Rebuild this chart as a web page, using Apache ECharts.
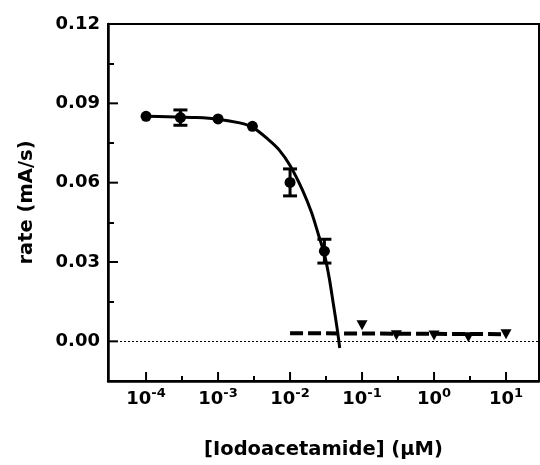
<!DOCTYPE html>
<html>
<head>
<meta charset="utf-8">
<script src="https://cdn.jsdelivr.net/npm/echarts@6/dist/echarts.min.js"></script>
<style>
html,body{margin:0;padding:0;background:#fff;}
#chart{width:540px;height:465px;}
</style>
</head>
<body>
<div id="chart"></div>
<script>
// ---- data ----
const concentrations = [1e-4, 3e-4, 1e-3, 3e-3, 1e-2, 3e-2];          // µM, circles
const rates = [0.0851, 0.0846, 0.0841, 0.0813, 0.0601, 0.0341];        // mA/s
const rateErrors = [0, 0.0029, 0, 0, 0.0051, 0.0045];

const fitConc = [1e-4, 2e-4, 5e-4, 1e-3, 2e-3, 3e-3, 5e-3, 7e-3, 1e-2, 1.5e-2, 2e-2, 2.5e-2, 3e-2, 3.5e-2, 4e-2, 4.5e-2, 4.9e-2];
const fitRate = [0.0851, 0.0849, 0.0846, 0.0840, 0.0826, 0.0810, 0.0763, 0.0725, 0.0665, 0.0570, 0.0485, 0.0400, 0.0330, 0.0240, 0.0140, 0.0050, -0.0025];

const triConc = [0.1, 0.3, 1, 3, 10];                                   // triangles
const triRate = [0.0061, 0.0023, 0.0022, 0.0015, 0.0027];

const dashConc = [0.01, 10];
const dashRate = [0.0031, 0.0027];

const yTickLabels = [0, 0.03, 0.06, 0.09, 0.12];
const yMinorTicks = [0.015, 0.045, 0.075, 0.105];
const xTickExponents = [-4, -3, -2, -1, 0, 1];
const xMinorTickExponents = [-3.5, -2.5, -1.5, -0.5, 0.5];

// ---- chart ----
const FONT = 'DejaVu Sans';
const X_MIN = 2.96e-5, X_MAX = 28.7;
const Y_MIN = -0.015, Y_MAX = 0.12;
const LX_MIN = Math.log10(X_MIN), LX_MAX = Math.log10(X_MAX);

const chart = echarts.init(document.getElementById('chart'), null, {renderer: 'canvas'});

const circleData = concentrations.map((c, i) => [c, rates[i]]);
const errData = concentrations.map((c, i) => [c, rates[i] - rateErrors[i], rates[i] + rateErrors[i], rateErrors[i]]);
// major tick decorations: [x, y, kind] kind 0 = y-axis tick, 1 = x-axis tick
const majorTickData = yTickLabels.map(v => [X_MIN, v, 0])
  .concat(xTickExponents.map(e => [Math.pow(10, e), Y_MIN, 1]));

const tickLine = {color: '#000', width: 2};

chart.setOption({
  animation: false,
  backgroundColor: '#fff',
  grid: {left: 108, right: 1, top: 24, bottom: 81, show: true, borderColor: '#000', borderWidth: 2, backgroundColor: 'transparent'},
  xAxis: [{
    type: 'log', logBase: 10, min: X_MIN, max: X_MAX,
    name: '[Iodoacetamide] (µM)', nameLocation: 'middle', nameGap: 59,
    nameTextStyle: {fontFamily: FONT, fontWeight: 'bold', fontSize: 19.5, color: '#000'},
    axisLine: {show: true, onZero: false, lineStyle: {color: '#000', width: 2.5}},
    axisTick: {show: false},
    axisLabel: {show: false},
    splitLine: {show: false},
    minorTick: {show: false}
  }, {
    type: 'value', min: LX_MIN, max: LX_MAX, position: 'bottom',
    axisLine: {show: false, onZero: false},
    axisTick: {show: false},
    axisLabel: {
      show: true, margin: 6, color: '#000', customValues: xTickExponents,
      formatter: function (v) { return '{b|10}{s|' + Math.round(v) + '}'; },
      rich: {
        b: {fontFamily: FONT, fontWeight: 'bold', fontSize: 18, lineHeight: 24, color: '#000'},
        s: {fontFamily: FONT, fontWeight: 'bold', fontSize: 13, lineHeight: 13, verticalAlign: 'top', color: '#000'}
      }
    },
    splitLine: {show: false}
  }, {
    type: 'value', min: LX_MIN, max: LX_MAX, position: 'bottom',
    axisLine: {show: false, onZero: false},
    axisTick: {show: true, inside: true, length: 5, customValues: xMinorTickExponents, lineStyle: tickLine},
    axisLabel: {show: false},
    splitLine: {show: false}
  }],
  yAxis: [{
    type: 'value', min: Y_MIN, max: Y_MAX, position: 'left',
    name: 'rate (mA/s)', nameLocation: 'middle', nameGap: 71,
    nameTextStyle: {fontFamily: FONT, fontWeight: 'bold', fontSize: 19.5, color: '#000'},
    axisLine: {show: true, onZero: false, lineStyle: {color: '#000', width: 2.5}},
    axisTick: {show: false},
    splitLine: {show: false},
    axisLabel: {
      show: true, margin: 8, fontFamily: FONT, fontWeight: 'bold', fontSize: 18, color: '#000',
      customValues: yTickLabels,
      formatter: function (v) { return v.toFixed(2); }
    }
  }, {
    type: 'value', min: Y_MIN, max: Y_MAX, position: 'left',
    axisLine: {show: false, onZero: false},
    axisTick: {show: true, inside: true, length: 6, customValues: yMinorTicks, lineStyle: tickLine},
    axisLabel: {show: false},
    splitLine: {show: false}
  }],
  series: [
    {
      type: 'custom', name: 'majorTicks', data: majorTickData, z: 6, clip: false, silent: true,
      renderItem: function (params, api) {
        const p = api.coord([api.value(0), api.value(1)]);
        const kind = api.value(2);
        const shape = kind === 0
          ? {x1: p[0], y1: p[1], x2: p[0] + 10, y2: p[1]}
          : {x1: p[0], y1: p[1], x2: p[0], y2: p[1] - 9};
        return {type: 'line', shape: shape, style: {stroke: '#000', lineWidth: 2}};
      }
    },
    {
      type: 'line', name: 'fit', data: fitConc.map((c, i) => [c, fitRate[i]]),
      smooth: 0.3, showSymbol: false,
      lineStyle: {color: '#000', width: 3}, z: 3,
      markLine: {
        silent: true, symbol: 'none', label: {show: false},
        lineStyle: {color: '#000', width: 1, type: [2, 2]},
        data: [{yAxis: 0}]
      }
    },
    {
      type: 'line', name: 'fit2', data: dashConc.map((c, i) => [c, dashRate[i]]),
      showSymbol: false,
      lineStyle: {color: '#000', width: 4, type: [13, 5]}, z: 3
    },
    {
      type: 'custom', name: 'err', data: errData, z: 4,
      renderItem: function (params, api) {
        if (api.value(3) <= 0) return null;
        const x = api.value(0);
        const lo = api.coord([x, api.value(1)]);
        const hi = api.coord([x, api.value(2)]);
        const w = 7;
        const style = {stroke: '#000', lineWidth: 3};
        return {type: 'group', children: [
          {type: 'line', shape: {x1: lo[0], y1: lo[1], x2: hi[0], y2: hi[1]}, style: style},
          {type: 'line', shape: {x1: lo[0] - w, y1: lo[1], x2: lo[0] + w, y2: lo[1]}, style: style},
          {type: 'line', shape: {x1: hi[0] - w, y1: hi[1], x2: hi[0] + w, y2: hi[1]}, style: style}
        ]};
      }
    },
    {
      type: 'scatter', name: 'circles', data: circleData,
      symbol: 'circle', symbolSize: 11, itemStyle: {color: '#000', opacity: 1}, z: 5
    },
    {
      type: 'scatter', name: 'triangles', data: triConc.map((c, i) => [c, triRate[i]]),
      symbol: 'triangle', symbolRotate: 180, symbolSize: [11, 10], itemStyle: {color: '#000', opacity: 1}, z: 5
    }
  ]
});
</script>
</body>
</html>
